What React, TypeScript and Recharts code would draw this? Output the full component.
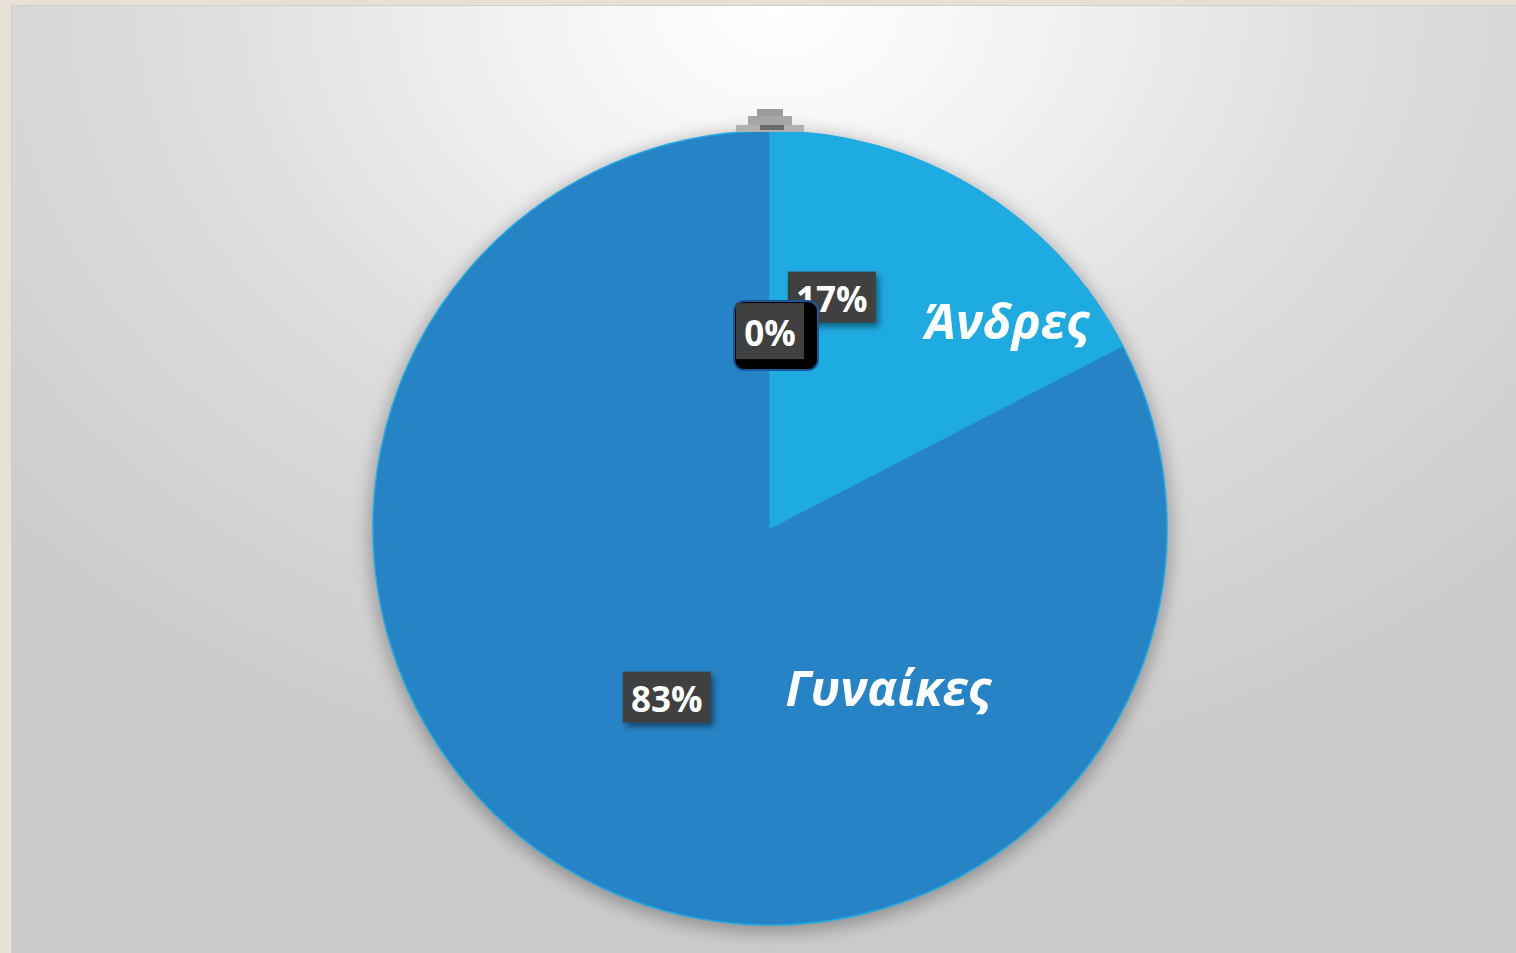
import { PieChart, Pie, Cell } from 'recharts'

// chart values
const CATEGORIES = ['Άνδρες', 'Γυναίκες', '']
const VALUES = [17.4, 82.6, 0]
const COLORS = ['#1EABE2', '#2683C6', '#9A9A9A']

// where Excel had the labels dragged to (fraction of radius, angle in degrees)
const PCT_POS = [
  { r: 0.602, a: 75 },
  { r: 0.499, a: -121.4 },
  { r: 0.496, a: 90 },
]
const NAME_POS = [
  { r: 0.794, a: 41.3 },
  { r: 0.499, a: -53.4 },
  null,
]

const data = CATEGORIES.map((name, i) => ({ name, value: VALUES[i] }))

const RAD = Math.PI / 180
const polar = (cx: number, cy: number, r: number, a: number) => ({
  x: cx + r * Math.cos(-a * RAD),
  y: cy + r * Math.sin(-a * RAD),
})

const renderLabel = (props: any) => {
  const { cx, cy, outerRadius, percent, index } = props
  const pct = `${Math.round(percent * 100)}%`
  const pp = PCT_POS[index]
  const p = polar(cx, cy, pp.r * outerRadius, pp.a)
  const w = pct.length * 20 + 28
  const h = index === 2 ? 56 : 51
  const np = NAME_POS[index]
  const n = np ? polar(cx, cy, np.r * outerRadius, np.a) : null
  const top = polar(cx, cy, outerRadius, 90)
  return (
    <g key={`lbl-${index}`}>
      {index === 2 && (
        <g>
          <rect x={top.x - 13} y={top.y - 22} width={26} height={8} fill="#9C9C9C" />
          <rect x={top.x - 22} y={top.y - 15} width={44} height={10} fill="#A6A6A6" />
          <rect x={top.x - 34} y={top.y - 6} width={68} height={7} fill="#B0B0B0" />
          <rect x={top.x - 10} y={top.y - 6} width={24} height={5} fill="#6A6A6A" />
        </g>
      )}
      {index === 2 && (
        <rect x={p.x - w / 2 - 2} y={p.y - h / 2 - 2} width={w + 16} height={h + 13} rx={10} fill="#000" stroke="#1a5a9a" strokeWidth={2} />
      )}
      <rect x={p.x - w / 2} y={p.y - h / 2} width={w} height={h} fill="#404040" filter={index === 2 ? undefined : 'url(#boxShadow)'} />
      <text x={p.x} y={p.y + 1} textAnchor="middle" dominantBaseline="central" fill="#fff" fontFamily="'Open Sans', sans-serif" fontWeight={700} fontSize={35}>
        {pct}
      </text>
      {n && (
        <text x={n.x} y={n.y} textAnchor="middle" dominantBaseline="central" fill="#fff" fontFamily="'Open Sans', sans-serif" fontStyle="italic" fontWeight={700} fontSize={49}>
          {CATEGORIES[index]}
        </text>
      )}
    </g>
  )
}

export default function App() {
  return (
    <div style={{ width: 1516, height: 953, background: '#E7E1D5', position: 'relative', overflow: 'hidden' }}>
      <style>{'body{margin:0}'}</style>
      <div
        style={{
          position: 'absolute',
          left: 11,
          top: 5,
          width: 1504,
          height: 947,
          background: 'radial-gradient(ellipse 70% 85% at 51% 0%, #ffffff 0%, #f4f4f4 22%, #dedede 55%, #cbcbcb 100%)',
          borderTop: '1px solid #cfcfcf',
          borderLeft: '1px solid #cfcfcf',
        }}
      >
        <PieChart width={1504} height={947} margin={{ top: 0, right: 0, bottom: 0, left: 0 }}>
          <defs>
            <filter id="pieShadow" x="-20%" y="-20%" width="140%" height="140%">
              <feGaussianBlur stdDeviation="9" />
            </filter>
            <filter id="boxShadow" x="-30%" y="-30%" width="160%" height="160%">
              <feDropShadow dx="3" dy="4" stdDeviation="3" floodColor="#000" floodOpacity="0.45" />
            </filter>
          </defs>
          <Pie
            data={data}
            dataKey="value"
            nameKey="name"
            cx={758}
            cy={526}
            outerRadius={400}
            startAngle={90}
            endAngle={-270}
            stroke="none"
            isAnimationActive={false}
            legendType="none"
          >
            {data.map((_, i) => (
              <Cell key={`sh-${i}`} fill="#000" fillOpacity={0.3} filter="url(#pieShadow)" />
            ))}
          </Pie>
          <Pie
            data={data}
            dataKey="value"
            nameKey="name"
            cx={758}
            cy={522}
            outerRadius={397}
            startAngle={90}
            endAngle={-270}
            labelLine={false}
            label={renderLabel}
            isAnimationActive={false}
          >
            {data.map((_, i) => (
              <Cell key={`cell-${i}`} fill={COLORS[i]} stroke="#1EABE2" strokeWidth={1.5} />
            ))}
          </Pie>
        </PieChart>
      </div>
    </div>
  )
}
